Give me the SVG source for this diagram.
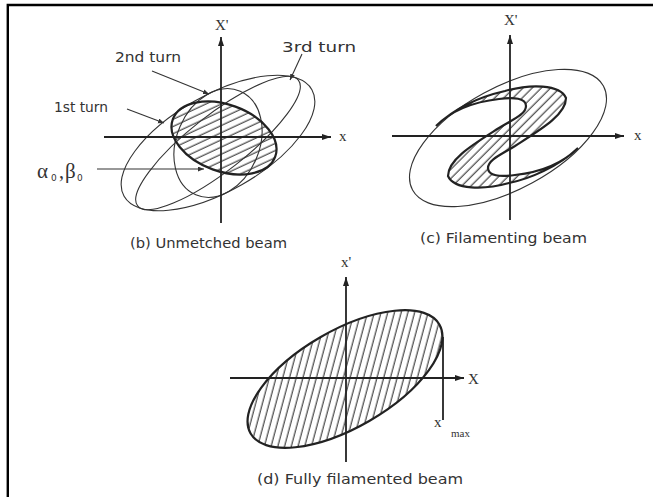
<svg xmlns="http://www.w3.org/2000/svg" width="653" height="497" viewBox="0 0 653 497">
<defs>
<style>
.ln{fill:none;stroke:#333;stroke-width:1.1}
.ax{fill:none;stroke:#222;stroke-width:1.8}
.hz{fill:url(#hatch);stroke:#222;stroke-width:2.2}
.lead{fill:none;stroke:#333;stroke-width:1.1}
.cap{font-family:"DejaVu Sans",sans-serif;font-size:14px;fill:#333}
.var{font-family:"Liberation Serif",serif;font-size:15px;fill:#333}
</style>
<pattern id="hatch" patternUnits="userSpaceOnUse" width="6.5" height="6.5" patternTransform="rotate(45)">
<line x1="3" y1="0" x2="3" y2="6.5" stroke="#333" stroke-width="1.1"/>
</pattern>
<marker id="ah" markerUnits="userSpaceOnUse" markerWidth="10" markerHeight="8" refX="9" refY="3" orient="auto">
<path d="M0,0 L9,3 L0,6 z" fill="#222"/>
</marker>
<marker id="sa" markerUnits="userSpaceOnUse" markerWidth="8" markerHeight="6" refX="6" refY="2.5" orient="auto">
<path d="M0,0 L6,2.5 L0,5 z" fill="#333"/>
</marker>
</defs>
<rect width="653" height="497" fill="#fff"/>
<path d="M7.8,497 V5 H653" fill="none" stroke="#000" stroke-width="2.4"/>

<g id="panel-b">
<ellipse class="ln" cx="218" cy="143" rx="108" ry="48" transform="rotate(-29.6 218 143)"/>
<ellipse class="ln" cx="218" cy="143" rx="56.4" ry="41.4" transform="rotate(-66.8 218 143)"/>
<ellipse class="ln" cx="218" cy="143" rx="102" ry="28" transform="rotate(-38 218 143)"/>
<ellipse class="hz" cx="224" cy="138" rx="54.5" ry="33.4" transform="rotate(20 224 138)"/>
<text class="var" x="215" y="30">X'</text>
<text class="var" x="339" y="141">x</text>
<text class="cap" x="115" y="62" textLength="66" lengthAdjust="spacingAndGlyphs">2nd turn</text>
<text class="cap" x="282" y="52" textLength="74" lengthAdjust="spacingAndGlyphs">3rd turn</text>
<text class="cap" x="54" y="112" textLength="54" lengthAdjust="spacingAndGlyphs">1st turn</text>
<text x="37" y="178" font-family="Liberation Serif,serif" font-size="21" fill="#333">α</text>
<text x="51" y="181" font-family="DejaVu Sans,sans-serif" font-size="9" fill="#333">0</text>
<text x="59" y="178" font-family="Liberation Serif,serif" font-size="20" fill="#333">,</text>
<text x="65" y="178" font-family="Liberation Serif,serif" font-size="21" fill="#333">β</text>
<text x="77" y="181" font-family="DejaVu Sans,sans-serif" font-size="9" fill="#333">0</text>
<text class="cap" x="130" y="248" textLength="157" lengthAdjust="spacingAndGlyphs">(b) Unmetched beam</text>
</g>

<g id="panel-c">
<ellipse class="ln" cx="508" cy="138" rx="108.7" ry="51" transform="rotate(-28.6 508 138)"/>
<path class="hz" d="M436,126 C456,107 483,96 505,91 C530,84 560,84 566,98 C566,115 540,130 515,146 C500,155 488,160 488,168 C488,176 500,177 515,175 C542,172 563,163 578,148 C558,167 529,179 509,183 C484,190 454,190 448,176 C448,159 474,144 499,128 C514,119 526,114 526,106 C526,98 514,97 499,99 C472,102 451,111 436,126 Z"/>
<text class="var" x="504" y="25">X'</text>
<text class="var" x="634" y="140">x</text>
<text class="cap" x="420" y="243" textLength="167" lengthAdjust="spacingAndGlyphs">(c) Filamenting beam</text>
</g>

<g id="panel-d">
<ellipse class="hz" cx="345" cy="379" rx="109" ry="48.5" transform="rotate(-30 345 379)"/>
<text class="var" x="341" y="267">x'</text>
<text class="var" x="468" y="384">X</text>
<text class="var" x="434" y="427">x</text>
<text x="451" y="437" font-family="Liberation Serif,serif" font-size="11" fill="#333">max</text>
<text class="cap" x="257" y="484" textLength="206" lengthAdjust="spacingAndGlyphs">(d) Fully filamented beam</text>
</g>

<g id="connectors">
<line class="ax" x1="104" y1="137" x2="331" y2="137" marker-end="url(#ah)"/>
<line class="ax" x1="221" y1="223" x2="221" y2="37" marker-end="url(#ah)"/>
<line class="ax" x1="392" y1="136" x2="624" y2="136" marker-end="url(#ah)"/>
<line class="ax" x1="510" y1="220" x2="510" y2="35" marker-end="url(#ah)"/>
<line class="ax" x1="230" y1="378" x2="464" y2="378" marker-end="url(#ah)"/>
<line class="ax" x1="346" y1="462" x2="346" y2="277" marker-end="url(#ah)"/>
<line class="ax" x1="443" y1="337" x2="443" y2="420"/>
<line class="lead" x1="152" y1="71" x2="209" y2="94" marker-end="url(#sa)"/>
<line class="lead" x1="127" y1="109" x2="164" y2="123" marker-end="url(#sa)"/>
<line class="lead" x1="302" y1="54" x2="290" y2="80" marker-end="url(#sa)"/>
<line class="lead" x1="97" y1="169" x2="204" y2="169" stroke-width="1.3" marker-end="url(#sa)"/>
</g>
</svg>
